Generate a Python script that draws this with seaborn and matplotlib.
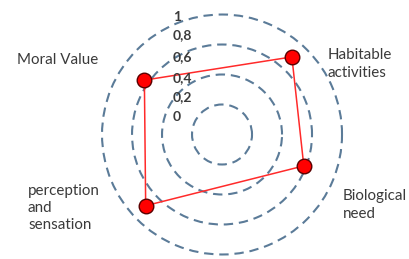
import numpy as np
import matplotlib
matplotlib.use("Agg")
import matplotlib.pyplot as plt
import seaborn as sns

# categories, the direction of each spoke (deg) and the value on it
categories = ["Habitable\nactivities", "Moral Value", "perception\nand\nsensation", "Biological\nneed"]
spoke_deg = [48, 145, 223, 339]
values = [0.87, 0.79, 0.87, 0.73]

grid_levels = [0.25, 0.5, 0.75, 1.0]
scale_labels = ["1", "0,8", "0,6", "0,4", "0,2", "0"]

sns.set_theme(style="white")
plt.rcParams['font.family'] = ['Lato', 'DejaVu Sans']

fig = plt.figure(figsize=(4.09, 2.59), dpi=100)
fig.patch.set_facecolor("white")

ax = fig.add_axes([0.2348, -0.0058, 0.6161, 0.973], projection="polar")
ax.set_facecolor("none")
ax.set_ylim(0, 1.05)
ax.spines["polar"].set_visible(False)
ax.set_thetagrids([])
ax.set_rgrids(grid_levels, labels=[""] * len(grid_levels))
ax.yaxis.grid(True, color="#5b7b98", linewidth=1.5, linestyle=(0, (4.5, 2.8)))
ax.xaxis.grid(False)

theta = np.deg2rad(spoke_deg + spoke_deg[:1])
r = values + values[:1]
sns.lineplot(x=theta, y=r, sort=False, ax=ax, color="#ff2a2a", linewidth=1.1, estimator=None)
sns.scatterplot(x=np.deg2rad(spoke_deg), y=values, ax=ax, s=110, color="#ff0000",
                edgecolor="#5a0000", linewidth=1.0, zorder=5)
ax.set_xlabel("")
ax.set_ylabel("")

# category labels
W, H = 409, 259
label_pos = {
    "Habitable\nactivities": (328, 64),
    "Moral Value": (17, 60),
    "perception\nand\nsensation": (28, 208),
    "Biological\nneed": (343, 205),
}
for name, (px, py) in label_pos.items():
    fig.text(px / W, 1 - py / H, name, ha="left", va="center", fontsize=10.9,
             color="#3a3a3a", linespacing=1.3)

# scale labels down the upper spoke
scale_y = [17, 35, 57, 78, 97, 117]
for lab, py in zip(scale_labels, scale_y):
    fig.text(173 / W, 1 - py / H, lab, ha="left", va="center", fontsize=10,
             color="#3a3a3a", fontweight="bold")

fig.savefig("out.png", dpi=100, facecolor="white")
